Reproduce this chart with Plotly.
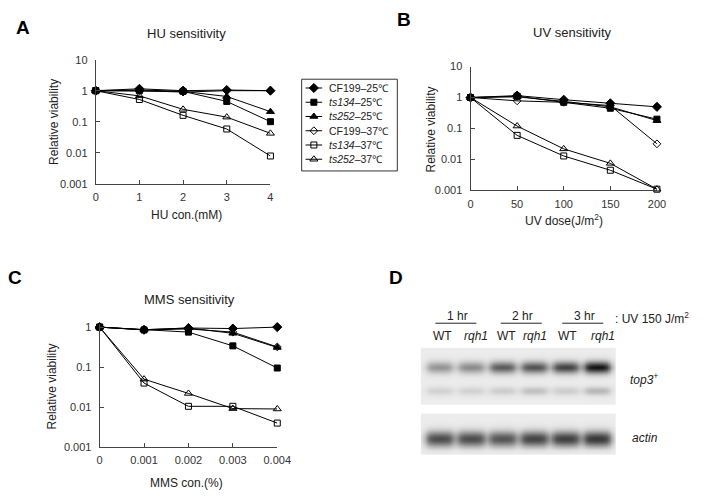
import numpy as np
import plotly.graph_objects as go

W, H = 709, 501

# ---------------- data ----------------
series_names = ["CF199\u201325\u2103", "<i>ts134</i>\u201325\u2103", "<i>ts252</i>\u201325\u2103",
                "CF199\u201337\u2103", "<i>ts134</i>\u201337\u2103", "<i>ts252</i>\u201337\u2103"]

hu_conc = [0, 1, 2, 3, 4]
hu_cf199_25 = [1.0, 1.15, 1.0, 1.05, 1.0]
hu_ts134_25 = [1.0, 1.0, 0.95, 0.45, 0.1]
hu_ts252_25 = [1.0, 1.05, 0.95, 0.65, 0.21]
hu_cf199_37 = [1.0, 1.0, 0.9, 1.0, 1.0]
hu_ts134_37 = [1.0, 0.52, 0.16, 0.058, 0.0078]
hu_ts252_37 = [1.0, 0.68, 0.25, 0.14, 0.042]

uv_dose = [0, 50, 100, 150, 200]
uv_cf199_25 = [1.0, 1.15, 0.85, 0.65, 0.5]
uv_ts134_25 = [1.0, 1.1, 0.7, 0.45, 0.2]
uv_ts252_25 = [1.0, 1.05, 0.75, 0.5, 0.18]
uv_cf199_37 = [1.0, 0.78, 0.7, 0.55, 0.032]
uv_ts134_37 = [1.0, 0.06, 0.013, 0.0045, 0.0011]
uv_ts252_37 = [1.0, 0.12, 0.022, 0.0075, 0.0011]

mms_conc = [0, 0.001, 0.002, 0.003, 0.004]
mms_cf199_25 = [1.0, 0.86, 0.95, 0.92, 1.0]
mms_ts134_25 = [1.0, 0.85, 0.75, 0.34, 0.095]
mms_ts252_25 = [1.0, 0.86, 0.95, 0.7, 0.31]
mms_cf199_37 = [1.0, 0.85, 0.9, 0.75, 0.32]
mms_ts134_37 = [1.0, 0.04, 0.0105, 0.0105, 0.004]
mms_ts252_37 = [1.0, 0.05, 0.022, 0.0092, 0.009]

y_ticks_vals = [0.001, 0.01, 0.1, 1, 10]
y_ticks_text = ["0.001", "0.01", "0.1", "1", "10"]

# Northern blot (panel D): relative band intensities per lane
lane_labels = ["WT", "rqh1", "WT", "rqh1", "WT", "rqh1"]
time_labels = ["1 hr", "2 hr", "3 hr"]
top3_band = [0.40, 0.44, 0.66, 0.70, 0.78, 1.0]
top3_lower_band = [0.12, 0.12, 0.14, 0.2, 0.14, 0.24]
actin_band = [0.72, 0.72, 0.68, 0.76, 0.78, 0.82]

# ---------------- helpers ----------------
def px(x):
    return x / W

def py(y):
    return 1 - y / H

markers = [
    dict(symbol="diamond", size=7),
    dict(symbol="square", size=6),
    dict(symbol="triangle-up", size=7),
    dict(symbol="diamond-open", size=6),
    dict(symbol="square-open", size=6),
    dict(symbol="triangle-up-open", size=7),
]

fig = go.Figure()

panels = [
    ("x", "y", hu_conc, [hu_cf199_25, hu_ts134_25, hu_ts252_25, hu_cf199_37, hu_ts134_37, hu_ts252_37]),
    ("x2", "y2", uv_dose, [uv_cf199_25, uv_ts134_25, uv_ts252_25, uv_cf199_37, uv_ts134_37, uv_ts252_37]),
    ("x3", "y3", mms_conc, [mms_cf199_25, mms_ts134_25, mms_ts252_25, mms_cf199_37, mms_ts134_37, mms_ts252_37]),
]
order = [3, 4, 5, 0, 1, 2]  # filled 25C markers on top
for xa, ya, xs, ys_list in panels:
    for i in order:
        fig.add_trace(go.Scatter(
            x=xs, y=ys_list[i], xaxis=xa, yaxis=ya, mode="lines+markers",
            name=series_names[i], showlegend=False,
            line=dict(color="black", width=1),
            marker=dict(color="black", line=dict(color="black", width=1), **markers[i]),
            cliponaxis=False,
        ))

# ---------------- legend (drawn manually for compact spacing) ----------------
leg_left, leg_top, leg_right, leg_bottom = 306, 75, 404, 169
leg_y0, leg_dy = 84, 14.6
leg_line_x0, leg_line_x1, leg_text_x = 310, 327, 332
legend_rows = list(range(len(series_names)))
for i in legend_rows:
    yy = leg_y0 + i * leg_dy
    fig.add_trace(go.Scatter(
        x=[(leg_line_x0 + leg_line_x1) / 2], y=[yy], xaxis="x5", yaxis="y5", mode="markers",
        showlegend=False, hoverinfo="skip",
        marker=dict(color="black", line=dict(color="black", width=1), **markers[i]),
        cliponaxis=False,
    ))

# ---------------- gel heatmap ----------------
lanes = np.arange(1, 7)
gx = np.linspace(0.4, 6.6, 249)
gy = np.arange(350, 461, 1.0)

def hprof(x, c, hw=0.40, edge=0.07):
    return 1.0 / (1.0 + np.exp((np.abs(x - c) - hw) / edge))

z = np.full((len(gy), len(gx)), np.nan)
for r, yy in enumerate(gy):
    if 350 <= yy <= 407:
        row = np.zeros_like(gx)
        for k, c in enumerate(lanes):
            h = hprof(gx, c)
            row += top3_band[k] * h * np.exp(-0.5 * ((yy - 370) / 4.5) ** 2)
            row += top3_lower_band[k] * h * np.exp(-0.5 * ((yy - 394) / 3.0) ** 2)
        z[r] = row
    elif 418 <= yy <= 460:
        row = np.zeros_like(gx)
        for k, c in enumerate(lanes):
            row += actin_band[k] * hprof(gx, c, 0.43, 0.07) * np.exp(-0.5 * ((yy - 443) / 5.5) ** 2)
        z[r] = row

fig.add_trace(go.Heatmap(
    x=gx, y=gy, z=z, xaxis="x4", yaxis="y4", zmin=0, zmax=1,
    colorscale=[[0, "rgb(236,236,236)"], [0.5, "rgb(125,125,125)"], [1, "rgb(15,15,15)"]],
    showscale=False, hoverinfo="skip", zsmooth="best",
))

# ---------------- axes ----------------
tickfont = dict(family="Liberation Sans, Arial", size=11, color="#333")
common_x = dict(showline=True, linecolor="#444", linewidth=1, ticks="inside", ticklen=4,
                tickcolor="#444", showgrid=False, zeroline=False, tickfont=tickfont,
                ticklabelstandoff=3)
common_y = dict(type="log", showline=True, linecolor="#444", linewidth=1, ticks="inside",
                ticklen=4, tickcolor="#444", showgrid=False, zeroline=False, tickfont=tickfont,
                tickvals=y_ticks_vals, ticktext=y_ticks_text, ticklabelstandoff=5)

layout = dict(
    width=W, height=H, margin=dict(l=0, r=0, t=0, b=0),
    paper_bgcolor="white", plot_bgcolor="rgba(0,0,0,0)",
    font=dict(family="Liberation Sans, Arial", color="#222"),
    showlegend=False,
    xaxis=dict(domain=[px(95), px(274)], range=[0, 4], tickvals=hu_conc, anchor="y", **common_x),
    yaxis=dict(domain=[py(182), py(55)], range=[-3, 1], anchor="x", **common_y),
    xaxis2=dict(domain=[px(479), px(670)], range=[0, 200], tickvals=uv_dose, anchor="y2", **common_x),
    yaxis2=dict(domain=[py(189), py(62)], range=[-3, 1], anchor="x2", **common_y),
    xaxis3=dict(domain=[px(99), px(281)], range=[0, 0.004], tickvals=mms_conc,
                ticktext=["0", "0.001", "0.002", "0.003", "0.004"], anchor="y3", **common_x),
    yaxis3=dict(domain=[py(452), py(326)], range=[-3, 0.073], anchor="x3", **common_y),
    xaxis4=dict(domain=[px(428), px(628)], range=[0.4, 6.6], visible=False, anchor="y4"),
    yaxis4=dict(domain=[py(460), py(350)], range=[460, 350], visible=False, anchor="x4"),
    xaxis5=dict(domain=[0, 1], range=[0, W], visible=False, anchor="y5", fixedrange=True),
    yaxis5=dict(domain=[0, 1], range=[H, 0], visible=False, anchor="x5", fixedrange=True),
)
fig.update_layout(**layout)

ann = []
def text(x, y, s, size=11, **kw):
    ann.append(dict(x=px(x), y=py(y), xref="paper", yref="paper", text=s, showarrow=False,
                    font=dict(size=size, color=kw.pop("color", "#222"), family=kw.pop("family", "Liberation Sans, Arial")),
                    xanchor=kw.pop("xanchor", "center"), yanchor="middle", **kw))

# panel letters
for lx, ly, L in [(20, 22, "A"), (411, 14, "B"), (12, 278, "C"), (403, 278, "D")]:
    text(lx, ly, "<b>%s</b>" % L, size=19, color="black")

# titles
text(188, 28, "HU sensitivity", size=13)
text(583, 27, "UV sensitivity", size=13)
text(191, 301, "MMS sensitivity", size=13)
# x titles
text(188, 214, "HU con.(mM)", size=12)
text(575, 219, "UV dose(J/m<sup>2</sup>)", size=12)
text(188, 489, "MMS con.(%)", size=12)
# y titles
text(52, 119, "Relative viability", size=12, textangle=-90)
text(438, 126, "Relative viability", size=12, textangle=-90)
text(50, 390, "Relative viability", size=12, textangle=-90)

# legend texts
for i in legend_rows:
    text(leg_text_x, leg_y0 + i * leg_dy, series_names[i], size=10.5, xanchor="left")

# panel D labels
for (cx, s) in zip([466, 532, 596], time_labels):
    text(cx, 318, s, size=12)
for (cx, s) in zip([450, 485, 516, 545, 578, 615], lane_labels):
    text(cx, 338, s if s == "WT" else "<i>%s</i>" % s, size=12)
text(625, 320, ": UV 150 J/m<sup>2</sup>", size=12, xanchor="left")
text(640, 382, "<i>top3<sup>+</sup></i>", size=12, xanchor="left")
text(642, 443, "<i>actin</i>", size=12, xanchor="left")

shapes = []
for x0, x1 in [(443, 485), (510, 552), (573, 615)]:
    shapes.append(dict(type="line", xref="paper", yref="paper", x0=px(x0), x1=px(x1),
                       y0=py(325), y1=py(325), line=dict(color="#222", width=1)))
# legend box and sample lines
shapes.append(dict(type="rect", xref="paper", yref="paper", x0=px(leg_left), x1=px(leg_right),
                   y0=py(leg_bottom), y1=py(leg_top), line=dict(color="#333", width=1),
                   fillcolor="rgba(0,0,0,0)", layer="below"))
for i in legend_rows:
    yy = leg_y0 + i * leg_dy
    shapes.append(dict(type="line", xref="paper", yref="paper", x0=px(leg_line_x0), x1=px(leg_line_x1),
                       y0=py(yy), y1=py(yy), line=dict(color="black", width=1), layer="below"))

fig.update_layout(annotations=ann, shapes=shapes)
fig.write_html("out.html", config={"displayModeBar": False},
               post_script="document.body.style.margin='0';document.documentElement.style.overflow='hidden';document.body.style.overflow='hidden';")
